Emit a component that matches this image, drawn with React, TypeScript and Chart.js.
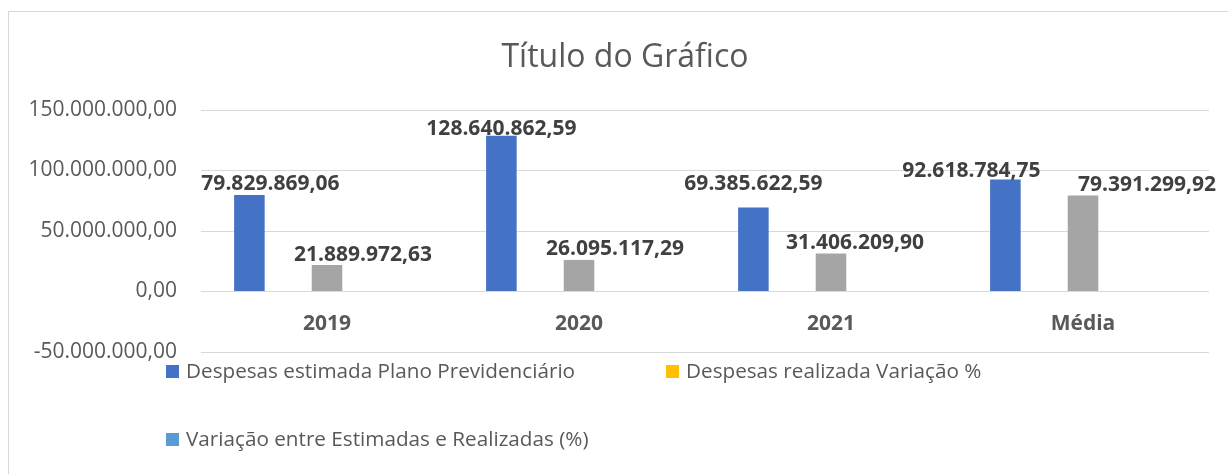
import React, { useEffect, useRef } from "react";
import { Chart, registerables } from "chart.js";

Chart.register(...registerables);

// ---- data ----
const categories = ["2019", "2020", "2021", "Média"];
const despesasEstimadas = [79829869.06, 128640862.59, 69385622.59, 92618784.75];
const serieOculta = [null, null, null, null];
const despesasRealizadas = [21889972.63, 26095117.29, 31406209.9, 79391299.92];
const despesasRealizadaVariacao = [null, null, null, null];
const variacaoEstimadasRealizadas = [null, null, null, null];
const yTickValues = [-50000000, 0, 50000000, 100000000, 150000000];

const seriesNames = [
  "Despesas estimada Plano Previdenciário",
  "Variação %",
  "Despesas realizada",
  "Despesas realizada Variação %",
  "Variação entre Estimadas e Realizadas (%)",
];
const seriesColors = ["#4472C4", "#ED7D31", "#A5A5A5", "#FFC000", "#5B9BD5"];
const legendSeries = [0, 3, 4];
const chartTitle = "Título do Gráfico";

// label nudges (pixels) for the data labels
const labeledSeries = [0, 2];
const labelDx = [
  [21, 0, 0, -34],
  [],
  [36, 36, 24, 64],
];
const labelDy = [
  [-12, -8, -25, -10],
  [],
  [-12, -12, -12, -12],
];

function fmt(v: number): string {
  const neg = v < 0;
  const [intPart, dec] = Math.abs(v).toFixed(2).split(".");
  const withDots = intPart.replace(/\B(?=(\d{3})+(?!\d))/g, ".");
  return (neg ? "-" : "") + withDots + "," + dec;
}

const TEXT = "#595959";
const FONT = '"Open Sans", "Liberation Sans", sans-serif';

const overlayPlugin = {
  id: "overlay",
  afterDatasetsDraw(chart: any) {
    const ctx = chart.ctx;
    const xs = chart.scales.x;
    const ys = chart.scales.y;
    ctx.save();

    // data labels
    ctx.font = `bold 21px ${FONT}`;
    ctx.fillStyle = "#404040";
    ctx.textAlign = "center";
    ctx.textBaseline = "alphabetic";
    labeledSeries.forEach((ds) => {
      const meta = chart.getDatasetMeta(ds);
      meta.data.forEach((bar: any, i: number) => {
        const v = chart.data.datasets[ds].data[i];
        if (v == null) return;
        ctx.fillText(fmt(v), bar.x + labelDx[ds][i], bar.y + labelDy[ds][i] + 7.5);
      });
    });

    // category labels (at zero line)
    ctx.fillStyle = TEXT;
    const zero = ys.getPixelForValue(0);
    categories.forEach((c, i) => {
      ctx.fillText(c, xs.getPixelForValue(i), zero + 38);
    });

    // title
    ctx.font = `32px ${FONT}`;
    ctx.fillText(chartTitle, 625, 66.5);

    // legend
    ctx.font = `20.7px ${FONT}`;
    ctx.textAlign = "left";
    const spots = [
      [166, 365],
      [666, 365],
      [166, 433],
    ];
    legendSeries.forEach((ds, k) => {
      const [lx, ly] = spots[k];
      ctx.fillStyle = chart.data.datasets[ds].backgroundColor;
      ctx.fillRect(lx, ly, 13, 13);
      ctx.fillStyle = TEXT;
      ctx.fillText(chart.data.datasets[ds].label, lx + 20, ly + 13);
    });

    ctx.restore();
  },
};

export default function App() {
  const ref = useRef<HTMLCanvasElement | null>(null);

  useEffect(() => {
    if (!ref.current) return;
    const seriesData = [
      despesasEstimadas,
      serieOculta,
      despesasRealizadas,
      despesasRealizadaVariacao,
      variacaoEstimadasRealizadas,
    ];
    const chart = new Chart(ref.current, {
      type: "bar",
      data: {
        labels: categories,
        datasets: seriesData.map((d, i) => ({
          label: seriesNames[i],
          data: d as any,
          backgroundColor: seriesColors[i],
          borderWidth: 0,
          categoryPercentage: 0.77,
          barPercentage: 0.787,
        })),
      },
      options: {
        animation: false,
        responsive: false,
        events: [],
        layout: { padding: { left: 0, right: 19, top: 110, bottom: 122 } },
        plugins: {
          legend: { display: false },
          title: { display: false },
          tooltip: { enabled: false },
        },
        scales: {
          x: {
            display: false,
          },
          y: {
            min: -50000000,
            max: 150000000,
            afterBuildTicks: (scale: any) => {
              scale.ticks = yTickValues.map((v) => ({ value: v }));
            },
            afterFit: (scale: any) => {
              scale.width = 201;
            },
            border: { display: false },
            grid: { color: "#D9D9D9", lineWidth: 1, drawTicks: false },
            ticks: {
              padding: 24,
              color: TEXT,
              font: { family: FONT, size: 21 },
              callback: (v: any) => fmt(Number(v)),
            },
          },
        },
      },
      plugins: [overlayPlugin],
    });
    return () => chart.destroy();
  }, []);

  return (
    <div
      style={{
        position: "fixed",
        left: 0,
        top: 0,
        width: 1228,
        height: 474,
        background: "#fff",
        overflow: "hidden",
      }}
    >
      <div
        style={{
          position: "absolute",
          left: 8,
          top: 11,
          width: 1300,
          height: 520,
          border: "1px solid #D9D9D9",
        }}
      />
      <canvas
        ref={ref}
        width={1228}
        height={474}
        style={{ position: "absolute", left: 0, top: 0 }}
      />
    </div>
  );
}
